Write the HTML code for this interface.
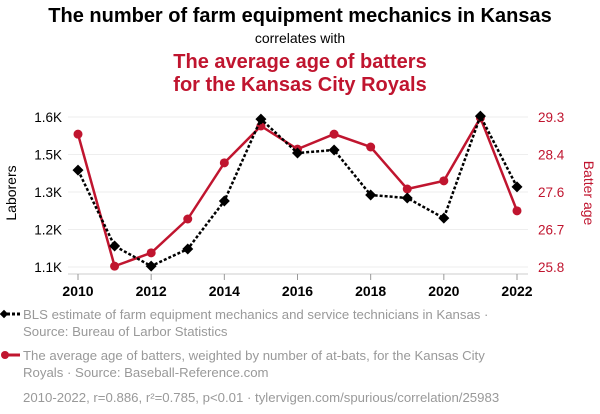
<!DOCTYPE html>
<html><head><meta charset="utf-8"><style>
body{margin:0;background:#fff;font-family:"Liberation Sans",sans-serif}
svg{display:block}
</style></head><body>
<svg id="chart" width="600" height="414" xmlns="http://www.w3.org/2000/svg" font-family="Liberation Sans, sans-serif">
<text x="300" y="22" text-anchor="middle" font-size="20" font-weight="bold" fill="#000">The number of farm equipment mechanics in Kansas</text>
<text x="300" y="43" text-anchor="middle" font-size="14" fill="#000">correlates with</text>
<text x="300" y="68" text-anchor="middle" font-size="20" font-weight="bold" fill="#c0152f">The average age of batters</text>
<text x="300" y="91" text-anchor="middle" font-size="20" font-weight="bold" fill="#c0152f">for the Kansas City Royals</text>
<g id="grid"></g><g id="axes"></g><g id="series"></g>
<text transform="translate(16,193) rotate(-90)" text-anchor="middle" font-size="14" fill="#000">Laborers</text>
<text transform="translate(584,193) rotate(90)" text-anchor="middle" font-size="14" fill="#c0152f">Batter age</text>
<g>
<line x1="2" y1="314" x2="20" y2="314" stroke="#000" stroke-width="3" stroke-dasharray="3,2"/>
<rect x="1" y="311" width="6" height="6" transform="rotate(45 4 314)" fill="#000"/>
<text x="23" y="319" font-size="13.2" fill="#999">BLS estimate of farm equipment mechanics and service technicians in Kansas ·</text>
<text x="23" y="336" font-size="13.2" fill="#999">Source: Bureau of Larbor Statistics</text>
</g>
<g>
<line x1="2" y1="355" x2="20" y2="355" stroke="#c0152f" stroke-width="3"/>
<circle cx="5" cy="355" r="4" fill="#c0152f"/>
<text x="23" y="360" font-size="13.2" fill="#999">The average age of batters, weighted by number of at-bats, for the Kansas City</text>
<text x="23" y="377" font-size="13.2" fill="#999">Royals · Source: Baseball-Reference.com</text>
</g>
<text x="23" y="402" font-size="13.2" fill="#999">2010-2022, r=0.886, r²=0.785, p&lt;0.01 · tylervigen.com/spurious/correlation/25983</text>
</svg>
<script>
const years=[2010,2011,2012,2013,2014,2015,2016,2017,2018,2019,2020,2021,2022];
const laborers=[1423,1170,1103,1160,1320,1593,1480,1490,1340,1330,1263,1603,1367];
const batterAge=[28.90,25.82,26.13,26.92,28.23,29.09,28.55,28.90,28.60,27.62,27.81,29.28,27.11];
const leftTicks=[1100,1225,1350,1475,1600];
const leftLabels=["1.1K","1.2K","1.3K","1.5K","1.6K"];
const rightTicks=[25.8,26.675,27.55,28.425,29.3];
const rightLabels=["25.8","26.7","27.6","28.4","29.3"];
const xTicks=[2010,2012,2014,2016,2018,2020,2022];

const NS="http://www.w3.org/2000/svg";
const X0=78,X1=517,Y0=267,Y1=117;
const xS=v=>X0+(v-2010)/(2022-2010)*(X1-X0);
const yL=v=>Y0-(v-1100)/(1600-1100)*(Y0-Y1);
const yR=v=>Y0-(v-25.8)/(29.3-25.8)*(Y0-Y1);
function mk(tag,attrs,parent,text){const e=document.createElementNS(NS,tag);for(const k in attrs)e.setAttribute(k,attrs[k]);if(text!==undefined)e.textContent=text;parent.appendChild(e);return e;}
const grid=document.getElementById('grid'),axes=document.getElementById('axes'),ser=document.getElementById('series');
leftTicks.forEach((t,i)=>{
  const y=yL(t);
  const g=mk('line',{x1:68,x2:528,y1:y,y2:y,stroke:'#eee','stroke-width':1},grid);
  
  
  const l=mk('text',{x:62,y:y+5,'text-anchor':'end','font-size':13.5,fill:'#000'},axes,leftLabels[i]);
  
  
});
rightTicks.forEach((t,i)=>{
  const l=mk('text',{x:538,y:yR(t)+5,'font-size':13.5,fill:'#c0152f'},axes,rightLabels[i]);
  
  
});
const base=mk('line',{x1:68,x2:528,y1:274,y2:274,stroke:'#ccc'},axes);


xTicks.forEach(t=>{
  const x=xS(t);
  const tk=mk('line',{x1:x,x2:x,y1:274,y2:280,stroke:'#999'},axes);
  
  
  const l=mk('text',{x:x,y:296,'text-anchor':'middle','font-size':14,'font-weight':'bold',fill:'#000'},axes,String(t));
  
  
});
const rp=mk('polyline',{points:years.map((y,i)=>xS(y)+','+yR(batterAge[i])).join(' '),fill:'none',stroke:'#c0152f','stroke-width':2.5},ser);


years.forEach((y,i)=>{
  const c=mk('circle',{cx:xS(y),cy:yR(batterAge[i]),r:4.5,fill:'#c0152f'},ser);
  
  
});
const bp=mk('polyline',{points:years.map((y,i)=>xS(y)+','+yL(laborers[i])).join(' '),fill:'none',stroke:'#000','stroke-width':2.5,'stroke-dasharray':'3,2'},ser);


years.forEach((y,i)=>{
  const x=xS(y),yy=yL(laborers[i]);
  const d=mk('polygon',{points:`${x},${yy-5.5} ${x+5.5},${yy} ${x},${yy+5.5} ${x-5.5},${yy}`,fill:'#000'},ser);
  
  
});
</script>
</body></html>
